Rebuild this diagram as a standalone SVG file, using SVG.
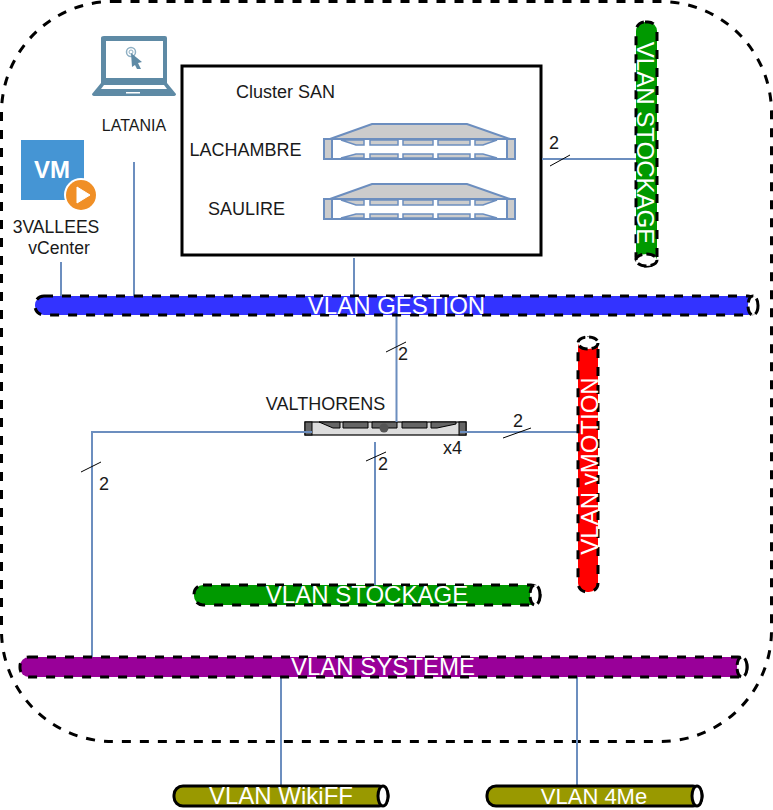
<svg xmlns="http://www.w3.org/2000/svg" width="773" height="810" viewBox="0 0 773 810">
<style>
text{font-family:"Liberation Sans",Arial,sans-serif;fill:#1a1a1a;font-size:18px}
.c{text-anchor:middle}
.v{fill:#fff;font-size:24px;text-anchor:middle}
.l{fill:none;stroke:#6c8ebf;stroke-width:2}
.t{fill:none;stroke:#000;stroke-width:1}
.d{stroke:#000;stroke-width:3;stroke-dasharray:9 9}
.e{stroke:#000;stroke-width:3;stroke-dasharray:9 4;fill:#fff}
.s{stroke:#000;stroke-width:3}
.srv{fill:#ccc;stroke:#6c8ebf;stroke-width:2}
.slot{fill:#ccc;stroke:#6c8ebf;stroke-width:1.5}
.srw{fill:#fff;stroke:#6c8ebf;stroke-width:2}
</style>
<defs>
<g id="server">
<path class="srv" d="M7 15L49 0H144L187 15Z"/>
<rect class="srw" x="1" y="15" width="191" height="20"/>
<rect class="srv" x="1" y="15" width="8" height="20"/>
<rect class="srv" x="184" y="15" width="8" height="20"/>
<path class="slot" d="M18 16H41V21H33ZM47 16H75V21H47ZM80 16H110V21H80ZM115 16H147V21H115ZM152 16H174L160 21H152Z"/>
<path class="slot" d="M18 34L33 30H41V34ZM47 30H75V34H47ZM80 30H110V34H80ZM115 30H147V34H115ZM152 30H160L174 34H152Z"/>
</g>
</defs>
<rect x="1.5" y="1.5" width="770" height="740" rx="111" ry="111" fill="none" stroke="#000" stroke-width="3" stroke-dasharray="9 9"/>
<g id="latania">
<path fill="#5e8aa5" d="M104 36H165Q167 36 167 38V83H101V38Q101 36 104 36Z"/>
<rect x="106" y="41" width="57" height="37" fill="#fff"/>
<path fill="#5e8aa5" d="M101 83H167L176 94Q176 96 173 96H95Q92 96 92 94Z"/>
<path fill="#fff" d="M104 85H164L167 89H101Z"/>
<rect x="126" y="92" width="14" height="1.500" fill="#fff"/>
<circle cx="131" cy="52" r="4.500" fill="none" stroke="#8fb0c4" stroke-width="1.500"/>
<circle cx="131" cy="52" r="2" fill="none" stroke="#8fb0c4"/>
<path fill="#5e8aa5" d="M131 53L142 62L138 63L141 69L137 69L135 65L132 67Z"/>
<text class="c" x="134" y="131" style="font-size:16px">LATANIA</text>
</g>
<g id="vcenter">
<rect x="21" y="140" width="63" height="60" fill="#4595d4"/>
<circle cx="81" cy="195" r="17" fill="#fff"/>
<circle cx="81" cy="195" r="15" fill="#f08f26"/>
<path fill="#fff" d="M77 187L90 195L77 203Z" stroke="#fff" stroke-linejoin="round" stroke-width="1"/>
<text x="52" y="178" class="c" style="fill:#fff;font-size:24px;font-weight:bold">VM</text>
<text class="c" x="56" y="233" style="font-size:17.600px">3VALLEES</text>
<text class="c" x="59" y="254" style="font-size:17.600px">vCenter</text>
</g>
<g id="cluster-san">
<rect x="182" y="66" width="359" height="189" fill="#fff" stroke="#000" stroke-width="3"/>
<text class="c" x="285.500" y="98">Cluster SAN</text>
<text class="c" x="245.500" y="156">LACHAMBRE</text>
<text class="c" x="246.500" y="215">SAULIRE</text>
<use href="#server" x="323" y="124"/>
<use href="#server" x="323" y="184"/>
</g>
<g id="valthorens">
<text class="c" x="325.500" y="410">VALTHORENS</text>
<rect x="305" y="422" width="161" height="13" fill="#ddd" stroke="#000" stroke-width="1.200"/>
<rect x="305" y="422" width="7" height="13" fill="#666" stroke="#000"/>
<rect x="459" y="422" width="7" height="13" fill="#666" stroke="#000"/>
<path fill="#666" stroke="#000" d="M319 422H340V428H333ZM343 422H368V428H343ZM372 422H397V428H372ZM402 422H427V428H402ZM431 422H456V424L437 428H431Z"/>
<circle cx="384" cy="428" r="4.500" fill="#555"/>
<text x="443" y="454">x4</text>
</g>
<g id="connectors">
<path class="l" d="M61 262V296M134 162V296M354 258V296M396.500 316V422M542 159H636M312 432H92V657M375 442V585M460 432H578M281 677V786M577 677V786"/>
<path class="t" d="M386 352L406 342M550 166L570 155M366 461L386 452M503 438L531 428M81 472L101 462"/>
</g>
<g id="labels">
<text x="549" y="149">2</text>
<text x="398" y="360">2</text>
<text x="378" y="470">2</text>
<text x="513" y="427">2</text>
<text x="99" y="490">2</text>
</g>
<g id="vlan-gestion">
<rect x="35" y="296" width="722" height="19" rx="9" class="d" fill="#3333ff"/>
<ellipse cx="753" cy="305.500" rx="5" ry="9.500" class="e"/>
<text class="v" x="396.500" y="314">VLAN GESTION</text>
</g>
<g id="vlan-stockage-v">
<rect x="636" y="22" width="21" height="244" rx="9" class="d" fill="#009900"/>
<ellipse cx="646.500" cy="260" rx="10.500" ry="6" class="e"/>
<text class="v" transform="translate(637 143) rotate(90)">VLAN STOCKAGE</text>
</g>
<g id="vlan-vmotion">
<rect x="578" y="338" width="20" height="254" rx="9" class="d" fill="#ff0000"/>
<ellipse cx="588" cy="343" rx="10" ry="6" class="e"/>
<text class="v" transform="translate(598 466) rotate(-90)">VLAN vMOTION</text>
</g>
<g id="vlan-stockage-h">
<rect x="194" y="585" width="346" height="20" rx="9" class="d" fill="#009900"/>
<ellipse cx="535" cy="595" rx="5" ry="10" class="e"/>
<text class="v" x="367" y="603">VLAN STOCKAGE</text>
</g>
<g id="vlan-systeme">
<rect x="20" y="657" width="727" height="20" rx="9" class="d" fill="#990099"/>
<ellipse cx="742" cy="667" rx="5" ry="10" class="e"/>
<text class="v" x="383" y="675">VLAN SYSTEME</text>
</g>
<g id="vlan-wikiff">
<rect x="174" y="786" width="214" height="20" rx="9" class="s" fill="#999900"/>
<ellipse cx="383" cy="796" rx="5" ry="10" fill="#fff" class="s"/>
<text class="v" x="281" y="804">VLAN WikiFF</text>
</g>
<g id="vlan-4me">
<rect x="487" y="786" width="215" height="20" rx="9" class="s" fill="#999900"/>
<ellipse cx="697" cy="796" rx="5" ry="10" fill="#fff" class="s"/>
<text class="v" x="594" y="804" style="font-size:22px">VLAN 4Me</text>
</g>
</svg>
